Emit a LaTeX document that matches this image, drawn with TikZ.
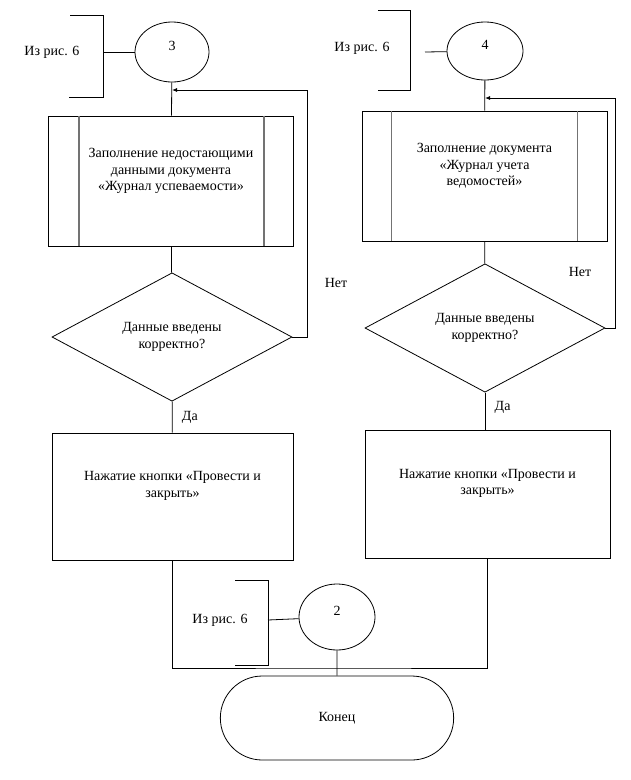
\documentclass[tikz,border=0pt]{standalone}
\usepackage{fontspec}
\setmainfont{Liberation Serif}
\usetikzlibrary{shapes.geometric,shapes.misc,arrows.meta,positioning}
\tikzset
{
    procnode/.style = {rectangle, draw=black, align=center, font=\fontsize{14}{16.5}\selectfont},
    predefnode/.style = {procnode, minimum width=245pt, minimum height=130pt},
    decnode/.style = {diamond, draw=black, align=center, inner sep=0pt, minimum width=240pt, minimum height=127pt, font=\fontsize{14}{17}\selectfont},
    connnode/.style = {ellipse, draw=black, font=\fontsize{14}{16}\selectfont, text height=8pt, text depth=12pt},
    termnode/.style = {rounded rectangle, draw=black, minimum width=240pt, minimum height=84pt, font=\fontsize{14}{16}\selectfont},
    notenode/.style = {font=\fontsize{14}{16}\selectfont},
    flow/.style = {draw=black, line width=0.8pt},
    backflow/.style = {flow, -{Latex[length=5pt,width=4pt]}},
    sidebar/.style = {draw=black!55, line width=1.6pt}
}

\begin{document}
\begin{tikzpicture}[x=1pt, y=-1pt, line width=0.8pt]
\useasboundingbox (0,0) rectangle (630,780);

% left branch
\node[connnode, minimum width=74pt, minimum height=60pt] (c3) at (172,52) {3};
\node[predefnode] (fill1) at (171,181) {Заполнение недостающими\\данными документа\\«Журнал успеваемости»\\[6pt]};
\node[decnode] (check1) at (172,337) {Данные введены\\корректно?};
\node[procnode, minimum width=241pt, minimum height=127pt] (post1) at (172.5,496.5) {Нажатие кнопки «Провести и\\закрыть»\\[8pt]};
\draw[sidebar] ([xshift=31pt]fill1.north west) -- ([xshift=31pt]fill1.south west);
\draw[sidebar] ([xshift=-30pt]fill1.north east) -- ([xshift=-30pt]fill1.south east);

% right branch
\node[connnode, minimum width=76pt, minimum height=58pt] (c4) at (485,51) {4};
\node[predefnode] (fill2) at (484.5,176) {Заполнение документа\\«Журнал учета\\ведомостей»\\[6pt]};
\node[decnode] (check2) at (485,328) {Данные введены\\корректно?};
\node[procnode, minimum width=245pt, minimum height=128pt] (post2) at (487.5,494) {Нажатие кнопки «Провести и\\закрыть»\\[8pt]};
\draw[sidebar] ([xshift=30pt]fill2.north west) -- ([xshift=30pt]fill2.south west);
\draw[sidebar] ([xshift=-30pt]fill2.north east) -- ([xshift=-30pt]fill2.south east);

% end
\node[connnode, minimum width=76pt, minimum height=66pt] (c2) at (337,617) {2};
\node[termnode] (finish) at (337,718) {Конец};

% off-page notes
\node[notenode] (from3) at (52,52) {Из рис. 6};
\node[notenode] (from4) at (362,48) {Из рис. 6};
\node[notenode] (from2) at (220,620) {Из рис. 6};
\draw (70,15) -| (103,97) -- (69,97);
\draw (378,10) -| (410,90) -- (378,90);
\draw (235,580) -| (268,665) -- (235,665);
\coordinate (tab3) at (103,52);
\coordinate (tab4) at (425,52);
\coordinate (tab2) at (268,620);
\draw[flow] (tab3) -- (c3);
\draw[flow] (tab4) -- (c4);
\draw[flow] (tab2) -- (c2);

% flow lines
\coordinate (in1) at (172,90);
\coordinate (in2) at (485,98);
\coordinate (merge) at (337,668);
\draw[flow] (c3) -- (fill1);
\draw[flow] (fill1) -- (check1);
\draw[flow] (check1) -- node[pos=0.5, right=6pt, notenode] {Да} (post1);
\draw[backflow] (check1.east) -- ++(15,0) |- (in1);
\node[notenode] at (336,283) {Нет};
\draw[flow] (c4) -- (fill2);
\draw[flow] (fill2) -- (check2);
\draw[flow] (check2) -- node[pos=0.4, right=6pt, notenode] {Да} (post2.north -| check2);
\draw[backflow] (check2.east) -- ++(10,0) |- (in2);
\node[notenode] at (580,272) {Нет};
\draw[flow] (post1) |- (merge) -| (post2);
\draw[flow] (c2) -- (finish);
\end{tikzpicture}
\end{document}
